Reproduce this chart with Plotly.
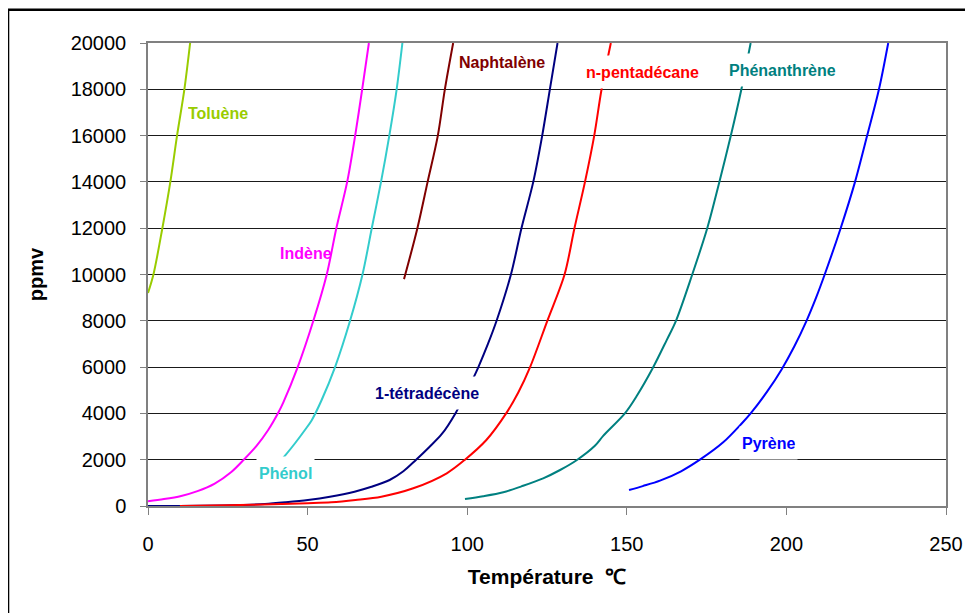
import plotly.graph_objects as go

# ---- data (temperature in °C, concentration in ppmv) ----
toluene_T = [0, 1.7, 4.5, 7.0, 9.1, 11.4, 13.2]
toluene_ppm = [9200, 10000, 12000, 14000, 16000, 18000, 20000]

indene_T = [0, 5, 10.4, 15.5, 20.9, 26.1, 30, 34, 37.6, 40.8, 42.4, 46.9, 51.8, 56.0, 59.0, 62.4, 64.9, 67.1, 69.2]
indene_ppm = [210, 300, 433, 640, 969, 1470, 2000, 2600, 3274, 4030, 4480, 6000, 8000, 10000, 12000, 14000, 16000, 18000, 20000]

phenol_T = [41, 42.8, 46, 49.1, 51.3, 54.4, 58.6, 63.3, 67.2, 70.1, 73.0, 75.6, 77.9, 79.7]
phenol_ppm = [1850, 2150, 2700, 3274, 3707, 4579, 6000, 8000, 10000, 12000, 14000, 16000, 18000, 20000]

naphtalene_T = [80.2, 80.6, 84.4, 87.6, 90.8, 93.0, 95.6]
naphtalene_ppm = [9800, 10000, 12000, 14000, 16000, 18000, 20000]

tetradecene_T = [0, 10, 23.5, 30, 36.6, 43, 50.1, 57, 64.7, 70, 75.7, 80, 84.0, 88, 92, 96.3, 102.1, 103.5, 106.5, 109.2, 113.7, 117.0, 120.7, 123.5, 125.9, 128.3]
tetradecene_ppm = [0, 5, 20, 45, 86, 160, 259, 400, 618, 830, 1123, 1500, 2000, 2530, 3100, 4000, 5580, 6000, 7000, 8000, 10000, 12000, 14000, 16000, 18000, 20000]

pentadecane_T = [10, 25, 41.8, 50, 57.4, 65, 73.1, 83.1, 93.6, 99.3, 106, 112.2, 116, 119.7, 125.1, 130.5, 133.6, 136.9, 139.8, 142.1, 145.0]
pentadecane_ppm = [0, 30, 86, 120, 160, 260, 403, 764, 1413, 2000, 2850, 4000, 4900, 6000, 8000, 10000, 12000, 14000, 16000, 18000, 20000]

phenanthrene_T = [99.3, 105, 111.3, 117, 123.8, 129.1, 134.5, 140, 142.6, 149.4, 153.1, 158.1, 162.5, 165.4, 170.5, 175.2, 179.0, 182.6, 185.9, 188.8]
phenanthrene_ppm = [300, 420, 592, 850, 1196, 1555, 2000, 2600, 3028, 4000, 4750, 5950, 7167, 8000, 10000, 12000, 14000, 16000, 18000, 20000]

pyrene_T = [150.7, 155, 160.4, 167, 172.9, 180.2, 186, 188.8, 194, 198.5, 202.5, 206.3, 209.3, 212, 217.0, 221.5, 225.3, 229.0, 231.9]
pyrene_ppm = [690, 860, 1094, 1500, 2000, 2750, 3564, 4000, 4950, 5900, 6900, 8000, 9000, 10000, 12000, 14000, 16000, 18000, 20000]

# label texts and their anchor positions (data coordinates)
labels = ["Toluène", "Indène", "Phénol", "Naphtalène", "1-tétradécène", "n-pentadécane", "Phénanthrène", "Pyrène"]
label_T = [21.8, 49.6, 43.2, 111.0, 87.4, 154.9, 198.7, 194.3]
label_ppm = [16970, 10940, 1445, 19200, 4860, 18750, 18840, 2740]
label_bg = ["white", "rgba(0,0,0,0)", "white", "white", "white", "white", "white", "white"]

colors = ["#99CC00", "#FF00FF", "#33CCCC", "#800000", "#000080", "#FF0000", "#008080", "#0000FF"]

series = [
    (toluene_T, toluene_ppm),
    (indene_T, indene_ppm),
    (phenol_T, phenol_ppm),
    (naphtalene_T, naphtalene_ppm),
    (tetradecene_T, tetradecene_ppm),
    (pentadecane_T, pentadecane_ppm),
    (phenanthrene_T, phenanthrene_ppm),
    (pyrene_T, pyrene_ppm),
]

x_ticks = [0, 50, 100, 150, 200, 250]
y_ticks = list(range(0, 20001, 2000))

FONT = "Arial, 'Liberation Sans', sans-serif"

fig = go.Figure()
for (t, p), name, col in zip(series, labels, colors):
    fig.add_trace(go.Scatter(x=t, y=p, mode="lines", name=name,
                             line=dict(color=col, width=2, shape="spline", smoothing=0.9),
                             showlegend=False, hoverinfo="skip"))

for txt, tx, ty, col, bg in zip(labels, label_T, label_ppm, colors, label_bg):
    fig.add_annotation(x=tx, y=ty, text="<b>%s</b>" % txt, showarrow=False,
                       xanchor="center", yanchor="middle",
                       font=dict(family=FONT, size=16, color=col),
                       bgcolor=bg, borderpad=2, height=28)

# outer chart frame
fig.add_shape(type="rect", xref="paper", yref="paper",
              x0=-0.1754, x1=1.3, y0=-0.6, y1=1.072,
              line=dict(color="black", width=2.5), fillcolor="rgba(0,0,0,0)",
              layer="above")

# the page body adds an 8px margin, so the figure is 8px smaller and margins shifted
fig.update_layout(
    width=965, height=605,
    margin=dict(l=140, r=27, t=35, b=107),
    paper_bgcolor="white", plot_bgcolor="white",
    font=dict(family=FONT, size=20, color="black"),
    xaxis=dict(range=[0, 250], tickvals=x_ticks, ticks="outside", ticklen=7,
               tickcolor="#808080", showgrid=False, zeroline=False,
               showline=True, linecolor="#808080", linewidth=1.5, mirror=True,
               tickfont=dict(size=20), ticklabelstandoff=12,
               title=dict(text="<b>Température  ℃</b>", font=dict(size=21), standoff=16),
               automargin=False),
    yaxis=dict(range=[0, 20000], tickvals=y_ticks, tickformat="d", ticks="outside",
               ticklen=6, tickcolor="#808080", showgrid=True, gridcolor="#1a1a1a",
               gridwidth=1, zeroline=False, showline=True, linecolor="#808080",
               linewidth=1.5, mirror=True, tickfont=dict(size=20),
               ticklabelstandoff=10,
               title=dict(text="<b>ppmv</b>", font=dict(size=20), standoff=22),
               automargin=False),
)

fig.write_html("out.html")
